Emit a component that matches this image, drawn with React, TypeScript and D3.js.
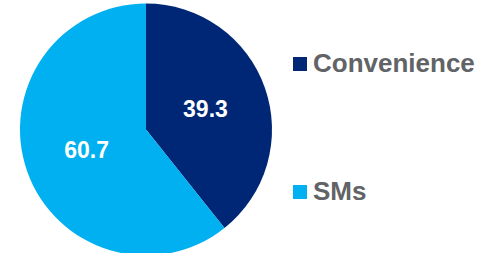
import React, { useEffect, useRef } from "react";
import * as d3 from "d3";

const categories = ["Convenience", "SMs"];
const values = [39.3, 60.7];
const colours = ["#002776", "#00b0f0"];

const W = 497;
const H = 253;

const App = () => {
  const ref = useRef<SVGSVGElement>(null);

  useEffect(() => {
    const svg = d3.select(ref.current);
    svg.selectAll("*").remove();

    const cx = 146, cy = 129.5, r = 126;
    const pie = d3.pie<number>().sort(null).value(d => d);
    const arcs = pie(values);
    const arc = d3.arc<d3.PieArcDatum<number>>().innerRadius(0).outerRadius(r);
    const labelArc = d3.arc<d3.PieArcDatum<number>>().innerRadius(r / 2).outerRadius(r / 2);

    const g = svg.append("g").attr("transform", `translate(${cx},${cy})`);

    g.selectAll("path")
      .data(arcs)
      .join("path")
      .attr("d", arc)
      .attr("fill", (d, i) => colours[i]);

    g.selectAll("text")
      .data(arcs)
      .join("text")
      .attr("x", d => labelArc.centroid(d)[0])
      .attr("y", d => labelArc.centroid(d)[1] + 8)
      .attr("text-anchor", "middle")
      .attr("font-family", "Liberation Sans, Arial, sans-serif")
      .attr("font-weight", "bold")
      .attr("font-size", 23)
      .attr("fill", "#ffffff")
      .text(d => d.data.toFixed(1));

    // legend
    const legendY = d3.scalePoint<string>().domain(categories).range([64, 192]);
    const item = svg.selectAll("g.legend")
      .data(categories)
      .join("g")
      .attr("class", "legend")
      .attr("transform", d => `translate(293,${legendY(d)})`);

    item.append("rect")
      .attr("x", 0)
      .attr("y", -7)
      .attr("width", 14)
      .attr("height", 14)
      .attr("fill", (d, i) => colours[i]);

    item.append("text")
      .attr("x", 20)
      .attr("y", 8)
      .attr("font-family", "Liberation Sans, Arial, sans-serif")
      .attr("font-weight", "bold")
      .attr("font-size", 26)
      .attr("fill", "#616366")
      .text(d => d);
  }, []);

  return (
    <svg
      ref={ref}
      width={W}
      height={H}
      style={{ position: "absolute", left: 0, top: 0, background: "#fff" }}
    />
  );
};

export default App;
